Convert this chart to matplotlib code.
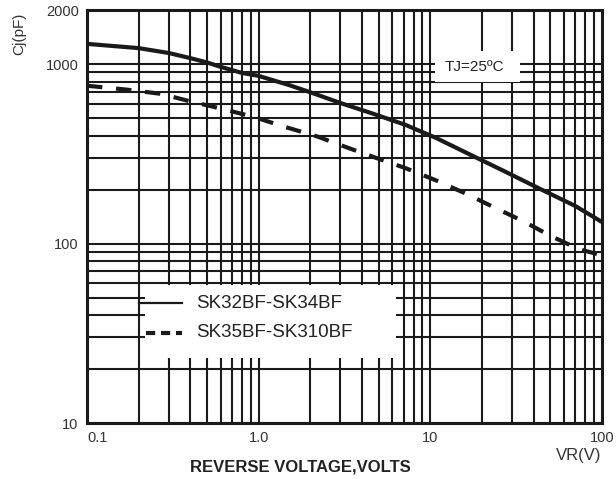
import matplotlib.pyplot as plt
from matplotlib.patches import Rectangle

plt.rcParams['font.family'] = ['Liberation Sans', 'DejaVu Sans']

# reverse voltage (V) and junction capacitance (pF)
vr_a = [0.1, 0.2, 0.3, 0.4, 0.5, 0.6, 0.8, 1.0, 1.5, 2, 3, 4.6, 7.2, 10.8, 17.7, 26.6, 43.5, 70, 100]
cj_sk32_34 = [1297, 1228, 1153, 1080, 1022, 966, 893, 860, 765, 697, 607, 531, 458, 388, 308, 255, 202, 162, 132]

vr_b = [0.1, 0.17, 0.27, 0.4, 0.6, 0.93, 1.4, 2.2, 3.2, 4.8, 7.2, 10.8, 16.1, 23.6, 34.4, 50.6, 73.7, 100]
cj_sk35_310 = [758, 721, 683, 620, 566, 509, 449, 395, 346, 301, 263, 225, 190, 159, 134, 110, 93, 86]

x_ticks = [0.1, 1, 10, 100]
x_labels = ["0.1", "1.0", "10", "100"]
y_ticks = [10, 100, 1000, 2000]
y_labels = ["10", "100", "1000", "2000"]

fig = plt.figure(figsize=(6.16, 4.79), dpi=100)
ax = fig.add_axes([0.1412, 0.1169, 0.8358, 0.862])
ax.set_xscale('log')
ax.set_yscale('log')
ax.set_xlim(0.1, 100)
ax.set_ylim(10, 2000)

# grid lines (every 1..9 in each decade)
gkw = dict(color='#1a1a1a', lw=1.5, zorder=1)
for dec in [0.1, 1, 10]:
    for m in range(1, 10):
        ax.axvline(dec * m, **gkw)
for dec in [10, 100]:
    for m in range(1, 10):
        ax.axhline(dec * m, **gkw)
ax.axhline(1000, **gkw)

# white boxes for legend and temperature note
ax.add_patch(Rectangle((0.218, 23), 6.3 - 0.218, 59 - 23, facecolor='white', edgecolor='none', zorder=2))
ax.add_patch(Rectangle((10.6, 790), 33.5 - 10.6, 1180 - 790, facecolor='white', edgecolor='none', zorder=2))
ax.text(18, 960, "TJ=25ºC", ha='center', va='center', fontsize=11, color='#222222', zorder=3)

ax.plot(vr_a, cj_sk32_34, color='#1a1a1a', lw=3, solid_capstyle='butt', zorder=4)
ax.plot(vr_b, cj_sk35_310, color='#1a1a1a', lw=3, dashes=(3.7, 3.3), zorder=4)

# legend lines drawn by hand
ax.plot([0.2, 0.36], [46.6, 46.6], color='#1a1a1a', lw=1.6, zorder=4)
ax.plot([0.22, 0.36], [31.9, 31.9], color='#1a1a1a', lw=3, dashes=(2.2, 1.4), zorder=4)
ax.text(0.43, 46.6, "SK32BF-SK34BF", va='center', fontsize=13.5, color='#222222', zorder=4)
ax.text(0.43, 31.9, "SK35BF-SK310BF", va='center', fontsize=13.5, color='#222222', zorder=4)

ax.set_xticks(x_ticks)
ax.set_xticklabels(x_labels)
ax.set_yticks(y_ticks)
ax.set_yticklabels(y_labels)
ax.minorticks_off()
ax.tick_params(length=0, labelsize=10.5, labelcolor='#333333', pad=6)
ax.get_xticklabels()[0].set_horizontalalignment('left')

for s in ax.spines.values():
    s.set_linewidth(2.2)
    s.set_color('#1a1a1a')
    s.set_zorder(5)

fig.text(0.977, 0.05, "VR(V)", ha='right', va='center', fontsize=12, color='#333333')
fig.text(0.487, 0.025, "REVERSE VOLTAGE,VOLTS", ha='center', va='center', fontsize=12,
         fontweight='bold', color='#222222')
fig.text(0.032, 0.93, "Cj(pF)", rotation=90, ha='center', va='center', fontsize=11, color='#333333')

fig.savefig("out.png", dpi=100)
